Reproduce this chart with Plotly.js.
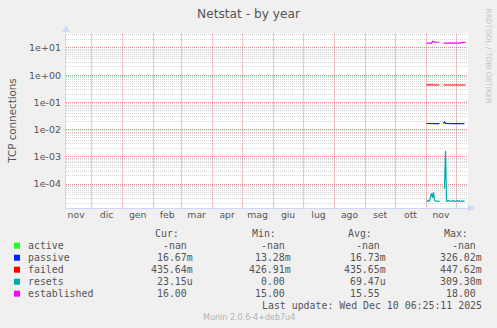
<!DOCTYPE html>
<html>
<head>
<meta charset="utf-8">
<script src="https://cdn.plot.ly/plotly-3.0.1.min.js"></script>
<style>html,body{margin:0;padding:0;background:#f0f0f0;}#chart{width:497px;height:328px;}</style>
</head>
<body>
<div id="chart"></div>
<script>
// ---- data ----
const dates = ['2025-11-01','2025-11-02','2025-11-03','2025-11-04','2025-11-05','2025-11-06','2025-11-07','2025-11-08','2025-11-09','2025-11-10',
  '2025-11-11','2025-11-12','2025-11-13','2025-11-14','2025-11-15','2025-11-16','2025-11-17','2025-11-18','2025-11-19','2025-11-20',
  '2025-11-21','2025-11-22','2025-11-23','2025-11-24','2025-11-25','2025-11-26','2025-11-27','2025-11-28','2025-11-29','2025-11-30',
  '2025-12-01','2025-12-02','2025-12-03','2025-12-04','2025-12-05','2025-12-06','2025-12-07','2025-12-08','2025-12-09','2025-12-10'];
const active = [null,null,null,null,null,null,null,null,null,null,null,null,null,null,null,null,null,null,null,null,
  null,null,null,null,null,null,null,null,null,null,null,null,null,null,null,null,null,null,null,null];
const passive = [0.0168,0.0167,0.0169,0.0167,0.0168,0.0170,0.0172,0.0171,0.0168,0.0167,0.0167,0.0168,0.0167,0.0167,
  null,null,null,
  0.0168,0.0196,0.0168,0.0167,0.0167,0.0168,0.0167,0.0166,0.0167,0.0168,0.0167,0.0166,0.0167,0.0168,0.0167,0.0167,0.0166,0.0167,0.0168,0.0167,0.0167,0.01667];
const failed = [0.437,0.436,0.438,0.435,0.436,0.440,0.447,0.445,0.437,0.435,0.434,0.436,0.435,0.436,
  null,null,null,
  0.436,0.440,0.436,0.435,0.434,0.435,0.436,0.435,0.434,0.433,0.435,0.436,0.435,0.434,0.435,0.436,0.435,0.434,0.435,0.436,0.435,0.436,0.4356];
const resets = [2.4e-5,2.3e-5,2.5e-5,2.4e-5,3.4e-5,4.6e-5,3.2e-5,4.9e-5,2.5e-5,2.4e-5,2.3e-5,2.4e-5,2.3e-5,2.4e-5,
  null,null,null,
  6.9e-5,7.5e-5,1.67e-3,2.4e-5,2.3e-5,2.5e-5,2.4e-5,2.3e-5,2.4e-5,2.5e-5,2.3e-5,2.4e-5,2.3e-5,2.4e-5,2.5e-5,2.3e-5,2.4e-5,2.3e-5,2.4e-5,2.3e-5,2.4e-5,2.315e-5];
const established = [15,15,15,15,15,15,17.6,17.6,16.2,16.2,16.2,16.2,16.2,16.2,
  null,null,null,
  15,15,15,15,15,15,15,15,15,15,15,15,15,15,15,15,15,15,16,16,16,16,16];

const seriesNames = ['active','passive','failed','resets','established'];
const seriesColors = ['#22ff22','#0022ff','#ff0000','#00aaaa','#ff00ff'];
const curVals = ['-nan','16.67m','435.64m','23.15u','16.00'];
const minVals = ['-nan','13.28m','426.91m','0.00','15.00'];
const avgVals = ['-nan','16.73m','435.65m','69.47u','15.55'];
const maxVals = ['-nan','326.02m','447.62m','309.30m','18.00'];
const colHeaders = ['Cur:','Min:','Avg:','Max:'];

const monthStarts = ['2024-12-01','2025-01-01','2025-02-01','2025-03-01','2025-04-01','2025-05-01','2025-06-01',
  '2025-07-01','2025-08-01','2025-09-01','2025-10-01','2025-11-01','2025-12-01'];
const monthMids = ['2024-11-15 12:00','2024-12-16','2025-01-16','2025-02-14 12:00','2025-03-16','2025-04-15 12:00','2025-05-16',
  '2025-06-15 12:00','2025-07-16','2025-08-16','2025-09-15 12:00','2025-10-16','2025-11-15 12:00'];
const monthLabels = ['nov','dic','gen','feb','mar','apr','mag','giu','lug','ago','set','ott','nov'];
const yTickVals = [1e-4,1e-3,1e-2,1e-1,1,10];
const yTickText = ['1e-04','1e-03','1e-02','1e-01','1e+00','1e+01'];

// ---- layout helpers ----
const W = 497, H = 328, ML = 66, MR = 29, MT = 33, MB = 120;
const PW = W - ML - MR, PH = H - MT - MB;
const px = v => (v - ML) / PW;
const py = v => (H - MB - v) / PH;
const xRange = ['2024-11-05 08:00', '2025-12-12 12:00'];
const yRange = [-4.88, 1.55];

const minorY = [];
for (let e = -5; e <= 1; e++) for (let m = 2; m <= 9; m++) minorY.push(m * Math.pow(10, e));

const seriesData = [active, passive, failed, resets, established];
const traces = seriesData.map((arr, i) => ({
  x: dates, y: arr, type: 'scatter', mode: 'lines', name: seriesNames[i],
  xaxis: 'x', yaxis: 'y',
  line: {color: seriesColors[i], width: 1.2}, connectgaps: false, hoverinfo: 'skip'
}));
// carrier trace for the labelled overlay axes (all values are NaN -> draws nothing)
traces.unshift({x: dates, y: active, type: 'scatter', mode: 'lines', xaxis: 'x2', yaxis: 'y2',
  showlegend: false, hoverinfo: 'skip', line: {color: seriesColors[0], width: 1}});

const txtColor = '#555555';
const gridRed = 'rgba(230,80,80,0.65)';
const gridRedV = 'rgba(240,110,110,0.45)';
const gridGrey = 'rgba(150,150,150,0.4)';
const mono = {family: 'DejaVu Sans Mono', size: 9.9, color: txtColor};
const annotations = [];
const shapes = [];
const charW = 5.96;
const valueRight = [194.3, 291.7, 387.3, 483.3];
const rowY0 = 245.7, rowStep = 12;

// month-start grid lines (pink), from the monthStarts array
monthStarts.forEach(d => shapes.push({type: 'line', xref: 'x', yref: 'paper', x0: d, x1: d, y0: 0, y1: 1,
  layer: 'below', line: {color: gridRedV, width: 1, dash: 'solid'}}));

colHeaders.forEach((h, j) => annotations.push({
  xref: 'paper', yref: 'paper', x: px(valueRight[j] - 2.4 * charW), y: py(233.3), text: h,
  showarrow: false, xanchor: 'right', yanchor: 'middle', font: mono, borderpad: 0
}));
const cols = [curVals, minVals, avgVals, maxVals];
seriesNames.forEach((n, i) => {
  const yy = rowY0 + i * rowStep;
  shapes.push({type: 'rect', xref: 'paper', yref: 'paper', x0: px(14), x1: px(20), y0: py(yy + 3), y1: py(yy - 3),
    fillcolor: seriesColors[i], line: {width: 0}});
  annotations.push({xref: 'paper', yref: 'paper', x: px(26.7), y: py(yy), text: n, showarrow: false,
    xanchor: 'left', yanchor: 'middle', font: mono, borderpad: 0});
  cols.forEach((c, j) => {
    const s = c[i];
    const hasUnit = /[a-zA-Z]$/.test(s) && s !== '-nan';
    annotations.push({xref: 'paper', yref: 'paper', x: px(valueRight[j] - (hasUnit ? 0 : charW)), y: py(yy), text: s,
      showarrow: false, xanchor: 'right', yanchor: 'middle', font: mono, borderpad: 0});
  });
});
annotations.push({xref: 'paper', yref: 'paper', x: px(483.3), y: py(305.7), text: 'Last update: Wed Dec 10 06:25:11 2025',
  showarrow: false, xanchor: 'right', yanchor: 'middle', font: mono, borderpad: 0});
annotations.push({xref: 'paper', yref: 'paper', x: px(248.8), y: py(317), text: 'Munin 2.0.6-4+deb7u4',
  showarrow: false, xanchor: 'center', yanchor: 'middle', font: {family: 'DejaVu Sans', size: 8, color: '#b4b4b4'}, borderpad: 0});
annotations.push({xref: 'paper', yref: 'paper', x: px(488.5), y: py(56), text: 'RRDTOOL / TOBI OETIKER', textangle: 90,
  showarrow: false, xanchor: 'center', yanchor: 'middle', font: {family: 'DejaVu Sans', size: 7.4, color: '#c4c4c4'}, borderpad: 0});
// axis arrows
annotations.push({xref: 'paper', yref: 'paper', x: 0, y: py(25), ax: 0, ay: 9, text: '', showarrow: true,
  arrowhead: 2, arrowsize: 1.4, arrowwidth: 1, arrowcolor: '#CFD6F8'});
annotations.push({xref: 'paper', yref: 'paper', x: px(475), y: 0, ax: -9, ay: 0, text: '', showarrow: true,
  arrowhead: 2, arrowsize: 1.4, arrowwidth: 1, arrowcolor: '#CFD6F8'});

const layout = {
  width: W, height: H,
  margin: {l: ML, r: MR, t: MT, b: MB, pad: 0},
  paper_bgcolor: '#f0f0f0', plot_bgcolor: '#ffffff',
  showlegend: false,
  title: {text: 'Netstat - by year', font: {family: 'DejaVu Sans', size: 12.2, color: txtColor},
    x: 0.5, xref: 'container', xanchor: 'center', y: 1 - 13.3 / H, yref: 'container', yanchor: 'middle'},
  xaxis: {
    type: 'date', range: xRange,
    tickmode: 'array', tickvals: monthStarts, showticklabels: false, ticks: '',
    showgrid: false,
    showline: true, linecolor: '#CFD6F8', linewidth: 1, zeroline: false, fixedrange: true
  },
  // month labels centred in each month
  xaxis2: {
    type: 'date', range: xRange, overlaying: 'x', side: 'bottom',
    tickmode: 'array', tickvals: monthMids, ticktext: monthLabels, ticks: '', showgrid: false,
    showline: false, zeroline: false,
    tickfont: {family: 'DejaVu Sans', size: 9.3, color: txtColor}, fixedrange: true
  },
  // minor log grid
  yaxis: {
    type: 'log', range: yRange,
    tickmode: 'array', tickvals: minorY, showticklabels: false, ticks: '',
    showgrid: true, gridcolor: gridGrey, griddash: '1px,1px', gridwidth: 1,
    showline: true, linecolor: '#CFD6F8', linewidth: 1, zeroline: false, fixedrange: true
  },
  // decade grid + labels
  yaxis2: {
    type: 'log', range: yRange, overlaying: 'y', side: 'left',
    tickmode: 'array', tickvals: yTickVals, ticktext: yTickText, ticks: '',
    showgrid: true, gridcolor: gridRed, griddash: '1px,1px', gridwidth: 1,
    showline: false, zeroline: false,
    tickfont: {family: 'DejaVu Sans', size: 9.5, color: txtColor},
    ticklabelstandoff: 4,
    title: {text: 'TCP connections', font: {family: 'DejaVu Sans', size: 10.3, color: txtColor}, standoff: 10},
    automargin: false, fixedrange: true
  },
  annotations: annotations,
  shapes: shapes
};

Plotly.newPlot('chart', traces, layout, {staticPlot: true, displayModeBar: false});
</script>
</body>
</html>
